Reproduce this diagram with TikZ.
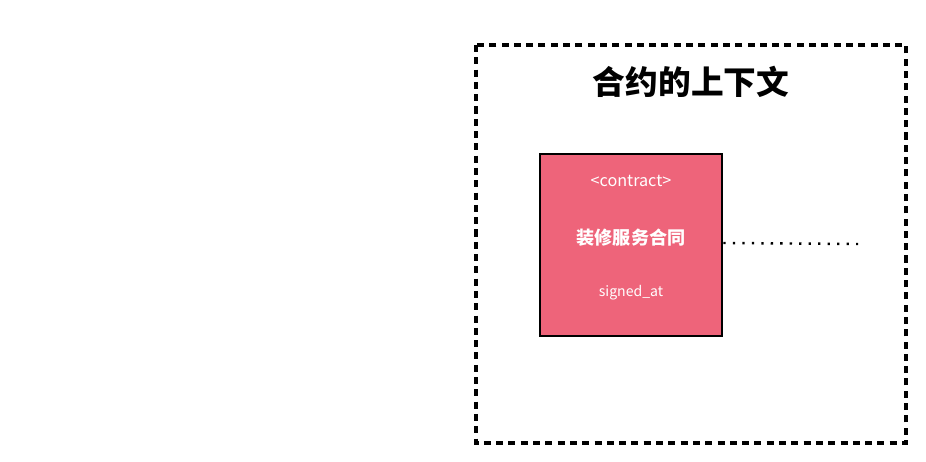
\documentclass[tikz,border=0pt]{standalone}
\usepackage{fontspec}
\setmainfont{Noto Sans CJK SC}
\newfontfamily\cjk{Noto Sans CJK SC}
\usepackage{tikz}
\usetikzlibrary{positioning}
\usepackage{xcolor}
\definecolor{contractred}{HTML}{EE647A}

\begin{document}
\begin{tikzpicture}[
        x=0.02cm, y=-0.02cm,
        frame/.style={draw, line width=2pt, dash pattern=on 4pt off 3pt},
        entity/.style={rectangle, draw, line width=1.5pt, fill=contractred, minimum width=3.64cm, minimum height=3.64cm},
        label/.style={text=white, font=\cjk\fontsize{8}{10}\selectfont}
    ]
        \useasboundingbox (0,0) rectangle (926,462);

        % Context frame
        \draw[frame] (476,45) rectangle (906,443);
        \node[font=\cjk\bfseries\fontsize{18.6}{22}\selectfont] (title) at (691,82) {合约的上下文};

        % Contract entity
        \node[entity] (contract) at (631,245) {};
        \node[label, font=\cjk\fontsize{9.2}{11}\selectfont] (stereo) at (631,181) {<contract>};
        \node[label, font=\cjk\bfseries\fontsize{10.3}{12}\selectfont] (name) at (631,238) {装修服务合同};
        \node[label] (attr) at (631,293) {signed\_at};

        % Dotted link
        \coordinate (linkend) at (858,244);
        \draw[line width=1.4pt, dash pattern=on 1.3pt off 4.1pt] (contract.east |- 0,243) -- (linkend);
    \end{tikzpicture}
\end{document}
